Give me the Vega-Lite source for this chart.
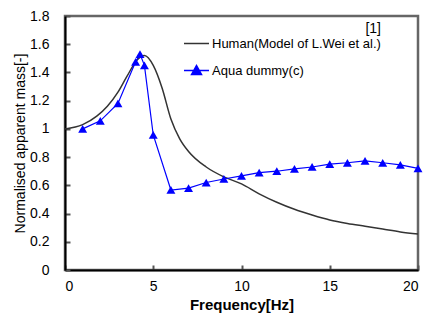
{
  "$schema": "https://vega.github.io/schema/vega-lite/v6.json",
  "width": 353,
  "height": 254,
  "autosize": "none",
  "padding": {"left": 65, "top": 16, "right": 8, "bottom": 51},
  "background": "white",
  "config": {
    "font": "Liberation Sans",
    "view": {"stroke": "#666666", "strokeWidth": 2.5},
    "axis": {
      "grid": false,
      "domainColor": "#000000",
      "domainWidth": 2,
      "tickColor": "#555555",
      "tickWidth": 2,
      "tickSize": -5,
      "labelFont": "Liberation Sans",
      "labelFontSize": 14,
      "labelColor": "#000000",
      "titleFont": "Liberation Sans",
      "titleColor": "#000000"
    }
  },
  "datasets": {
    "human": [
      {"f": 0, "m": 1.0}, {"f": 1, "m": 1.03}, {"f": 1.8, "m": 1.09}, {"f": 2.4, "m": 1.16},
      {"f": 3, "m": 1.26}, {"f": 3.5, "m": 1.37}, {"f": 4.1, "m": 1.49}, {"f": 4.5, "m": 1.52},
      {"f": 5.0, "m": 1.45}, {"f": 5.5, "m": 1.29}, {"f": 6.0, "m": 1.07}, {"f": 6.5, "m": 0.93},
      {"f": 7, "m": 0.84}, {"f": 8, "m": 0.73}, {"f": 9, "m": 0.66}, {"f": 10, "m": 0.61},
      {"f": 11, "m": 0.54}, {"f": 12, "m": 0.48}, {"f": 13, "m": 0.43}, {"f": 14, "m": 0.39},
      {"f": 15, "m": 0.355}, {"f": 16, "m": 0.33}, {"f": 17, "m": 0.31}, {"f": 18, "m": 0.29},
      {"f": 19, "m": 0.27}, {"f": 20, "m": 0.255}
    ],
    "aqua": [
      {"f": 1, "m": 1.0}, {"f": 2, "m": 1.057}, {"f": 3, "m": 1.18}, {"f": 4, "m": 1.475},
      {"f": 4.25, "m": 1.53}, {"f": 4.5, "m": 1.45}, {"f": 5, "m": 0.957}, {"f": 6, "m": 0.567},
      {"f": 7, "m": 0.58}, {"f": 8, "m": 0.62}, {"f": 9, "m": 0.645}, {"f": 10, "m": 0.667},
      {"f": 11, "m": 0.69}, {"f": 12, "m": 0.70}, {"f": 13, "m": 0.716}, {"f": 14, "m": 0.73},
      {"f": 15, "m": 0.75}, {"f": 16, "m": 0.76}, {"f": 17, "m": 0.773}, {"f": 18, "m": 0.76},
      {"f": 19, "m": 0.745}, {"f": 20, "m": 0.72}
    ]
  },
  "encoding": {
    "x": {
      "field": "f", "type": "quantitative",
      "scale": {"domain": [0, 20], "nice": false},
      "axis": {"values": [0, 5, 10, 15, 20], "title": "Frequency[Hz]", "titleFontWeight": "bold", "titleFontSize": 15, "labelPadding": 14, "titlePadding": 4}
    },
    "y": {
      "field": "m", "type": "quantitative",
      "scale": {"domain": [0, 1.8], "nice": false},
      "axis": {"values": [0, 0.2, 0.4, 0.6, 0.8, 1, 1.2, 1.4, 1.6, 1.8], "format": "~g", "title": "Normalised apparent mass[-]", "titleFontWeight": "normal", "titleFontSize": 14, "labelPadding": 21, "titlePadding": 2}
    },
    "color": {
      "field": "series", "type": "nominal",
      "scale": {"domain": ["Human(Model of L.Wei et al.)", "Aqua dummy(c)"], "range": ["#333333", "#0000ff"]},
      "legend": {
        "title": "[1]",
        "titleFontWeight": "normal",
        "titleFontSize": 14,
        "titleAnchor": "end",
        "titleAlign": "right",
        "titlePadding": -6,
        "orient": "none",
        "legendX": 118,
        "legendY": 6,
        "padding": 0,
        "labelFontSize": 13,
        "labelLimit": 0,
        "labelColor": "#000000",
        "labelOffset": 2,
        "symbolSize": 625,
        "rowPadding": 6,
        "encode": {
          "symbols": {
            "update": {
              "shape": {"signal": "datum.value === 'Aqua dummy(c)' ? 'M-1,0H1M-0.4,0.32L0,-0.4L0.4,0.32Z' : 'M-1,0H1'"},
              "fill": {"scale": "color", "field": "value"},
              "stroke": {"scale": "color", "field": "value"},
              "strokeWidth": {"value": 1.5}
            }
          }
        }
      }
    }
  },
  "layer": [
    {
      "mark": {"type": "rule", "strokeWidth": 2.5},
      "encoding": {"x": {"datum": 0}, "x2": {"datum": 20}, "y": {"datum": 1.8}, "color": {"value": "#666666"}}
    },
    {
      "mark": {"type": "rule", "strokeWidth": 2.5},
      "encoding": {"x": {"datum": 20}, "y": {"datum": 0}, "y2": {"datum": 1.8}, "color": {"value": "#666666"}}
    },
    {
      "data": {"name": "human"},
      "transform": [{"calculate": "'Human(Model of L.Wei et al.)'", "as": "series"}],
      "mark": {"type": "line", "interpolate": "monotone", "strokeWidth": 1.5}
    },
    {
      "data": {"name": "aqua"},
      "transform": [{"calculate": "'Aqua dummy(c)'", "as": "series"}],
      "mark": {"type": "line", "strokeWidth": 1.2, "point": {"shape": "triangle-up", "size": 80, "filled": true, "opacity": 1}}
    }
  ]
}
